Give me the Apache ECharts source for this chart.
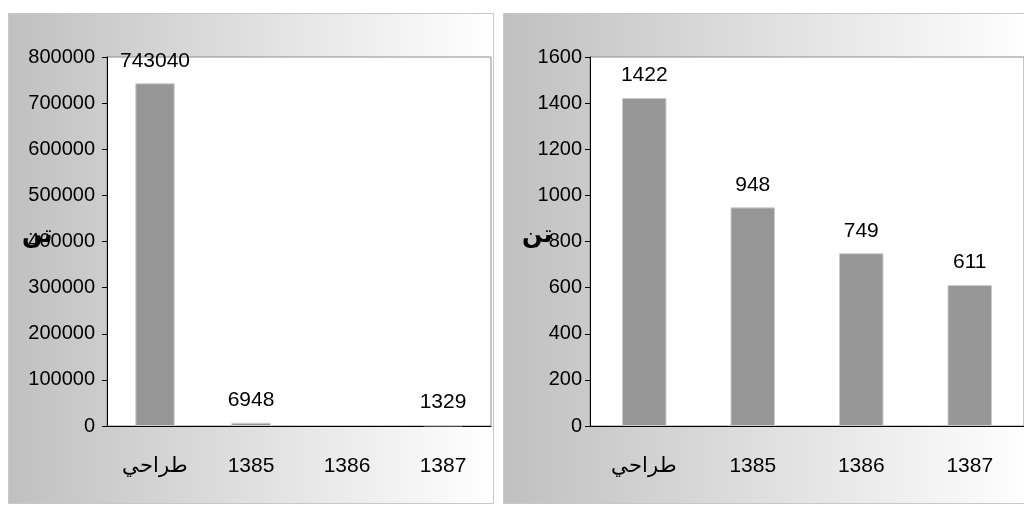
<!DOCTYPE html>
<html>
<head>
<meta charset="utf-8">
<script src="https://cdn.jsdelivr.net/npm/echarts@6/dist/echarts.min.js"></script>
<style>
  html, body { margin: 0; padding: 0; background: #fff; }
  #chart { width: 1024px; height: 506px; }
</style>
</head>
<body>
<div id="chart"></div>
<script>
// categories and values
const categories = ['طراحي', '1385', '1386', '1387'];
const leftValues = [743040, 6948, null, 1329];
const rightValues = [1422, 948, 749, 611];
const leftTicks = { max: 800000, step: 100000 };
const rightTicks = { max: 1600, step: 200 };
const unitText = 'تن';

const FONT = '"Liberation Sans", Arial, sans-serif';

function panelFill() {
    return new echarts.graphic.LinearGradient(0, 0, 1, 0, [
        { offset: 0, color: '#c0c0c0' },
        { offset: 1, color: '#ffffff' }
    ]);
}

function xAxisFor(gridIndex) {
    return {
        type: 'category',
        gridIndex: gridIndex,
        data: categories,
        boundaryGap: true,
        axisLine: { lineStyle: { color: '#000', width: 1 } },
        axisTick: { length: 8, lineStyle: { color: '#000' } },
        axisLabel: { color: '#000', fontSize: 21, fontFamily: FONT, margin: 30 }
    };
}

function yAxisFor(gridIndex, ticks, margin) {
    return {
        type: 'value',
        gridIndex: gridIndex,
        min: 0,
        max: ticks.max,
        interval: ticks.step,
        axisLine: { show: true, lineStyle: { color: '#000', width: 1 } },
        axisTick: { show: true, length: 5, lineStyle: { color: '#000' } },
        splitLine: { show: false },
        axisLabel: {
            color: '#000', fontSize: 20, fontFamily: FONT, margin: margin,
            formatter: function (v) { return String(v); }
        }
    };
}

function barSeries(idx, values) {
    return {
        type: 'bar',
        xAxisIndex: idx,
        yAxisIndex: idx,
        data: values,
        barWidth: '41%',
        itemStyle: { color: '#969696', borderColor: '#cccccc', borderWidth: 1 },
        label: {
            show: true,
            position: 'top',
            distance: 12,
            color: '#000',
            fontSize: 21,
            fontFamily: FONT
        }
    };
}

const chart = echarts.init(document.getElementById('chart'), null, { renderer: 'canvas' });

chart.setOption({
    animation: false,
    backgroundColor: '#fff',
    graphic: [
        { type: 'rect', z: -10, shape: { x: 8.5, y: 13.5, width: 485, height: 490 },
          style: { fill: panelFill(), stroke: '#c8c8c8', lineWidth: 1 } },
        { type: 'rect', z: -10, shape: { x: 503.5, y: 13.5, width: 530, height: 490 },
          style: { fill: panelFill(), stroke: '#c8c8c8', lineWidth: 1 } },
        { type: 'text', left: 22, top: 224, z: 10,
          style: { text: unitText, fontSize: 24, fontWeight: 'bold', fill: '#000', fontFamily: '"DejaVu Sans", sans-serif' } },
        { type: 'text', left: 522, top: 224, z: 10,
          style: { text: unitText, fontSize: 24, fontWeight: 'bold', fill: '#000', fontFamily: '"DejaVu Sans", sans-serif' } }
    ],
    grid: [
        { left: 107, top: 57, width: 384, height: 369, show: true,
          backgroundColor: '#fff', borderColor: '#8c8c8c', borderWidth: 1 },
        { left: 590, top: 57, width: 441, height: 369, show: true,
          backgroundColor: '#fff', borderColor: '#8c8c8c', borderWidth: 1 }
    ],
    xAxis: [xAxisFor(0), xAxisFor(1)],
    yAxis: [yAxisFor(0, leftTicks, 12), yAxisFor(1, rightTicks, 8)],
    series: [barSeries(0, leftValues), barSeries(1, rightValues)]
});
</script>
</body>
</html>
